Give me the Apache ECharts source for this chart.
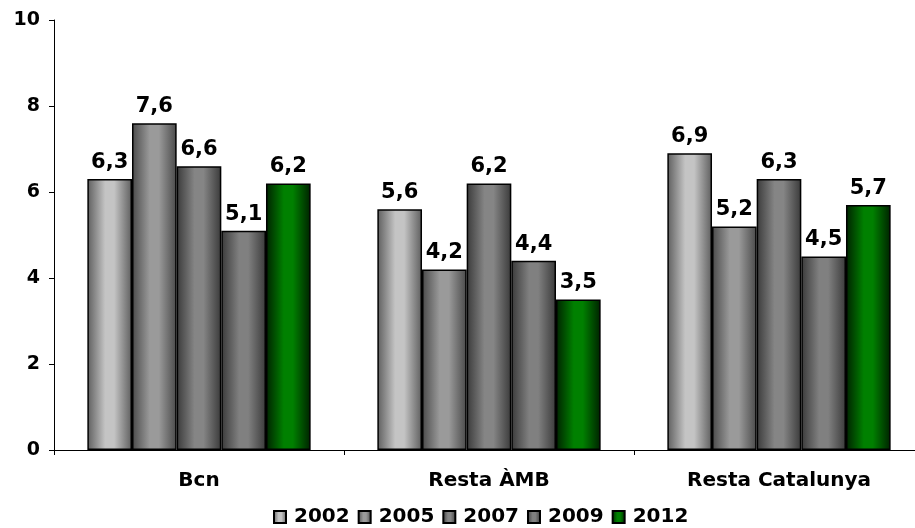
<!DOCTYPE html>
<html><head><meta charset="utf-8">
<script src="https://cdn.jsdelivr.net/npm/echarts@6/dist/echarts.min.js"></script>
<style>html,body{margin:0;padding:0;background:#fff;overflow:hidden}#c{width:930px;height:528px}</style>
</head><body><div id="c"></div>
<script>
const categories = ['Bcn', 'Resta ÀMB', 'Resta Catalunya'];
const years = ['2002', '2005', '2007', '2009', '2012'];
const v2002 = [6.3, 5.6, 6.9];
const v2005 = [7.6, 4.2, 5.2];
const v2007 = [6.6, 6.2, 6.3];
const v2009 = [5.1, 4.4, 4.5];
const v2012 = [6.2, 3.5, 5.7];
const yTicks = [0, 2, 4, 6, 8, 10];

const seriesValues = [v2002, v2005, v2007, v2009, v2012];
const palette = [
  {edge:'#5e5e5e', mid:'#c4c4c4'},
  {edge:'#4a4a4a', mid:'#9a9a9a'},
  {edge:'#3a3a3a', mid:'#858585'},
  {edge:'#3a3a3a', mid:'#808080'},
  {edge:'#002200', mid:'#008000'}
];
function grad(p){
  return new echarts.graphic.LinearGradient(0,0,1,0,[
    {offset:0, color:p.edge},
    {offset:0.4, color:p.mid},
    {offset:0.6, color:p.mid},
    {offset:1, color:p.edge}
  ]);
}
const FONT = '"DejaVu Sans", Verdana, sans-serif';
const chart = echarts.init(document.getElementById('c'));
chart.setOption({
  animation:false,
  backgroundColor:'#fff',
  grid:{left:54, top:20, width:870, height:430, containLabel:false},
  legend:{
    top:507, left:273, itemWidth:12, itemHeight:12, itemGap:8, padding:0,
    textStyle:{fontFamily:FONT, fontWeight:'bold', fontSize:20, color:'#000', padding:[0,0,0,3]},
    data: years.map(y=>({name:y, icon:'rect'}))
  },
  xAxis:{
    type:'category', data:categories,
    axisLine:{lineStyle:{color:'#000', width:1}},
    axisTick:{show:true, length:5, lineStyle:{color:'#000'}},
    axisLabel:{fontFamily:FONT, fontWeight:'bold', fontSize:20, color:'#000', margin:21}
  },
  yAxis:{
    type:'value', min:0, max:10, interval:2,
    splitLine:{show:false},
    axisLine:{show:true, lineStyle:{color:'#000', width:1}},
    axisTick:{show:true, length:5, lineStyle:{color:'#000'}},
    axisLabel:{fontFamily:FONT, fontWeight:'bold', fontSize:19, color:'#000', margin:14,
      formatter:v=> yTicks.includes(v) ? String(v) : ''}
  },
  series: years.map((y,i)=>({
    name:y, type:'bar', data:seriesValues[i],
    barGap:'0%', barCategoryGap:'23%',
    itemStyle:{color:grad(palette[i]), borderColor:'#000', borderWidth:1.5},
    label:{show:true, position:'top', distance:6, fontFamily:FONT, fontWeight:'bold', fontSize:21, color:'#000',
      formatter:p=>p.value.toFixed(1).replace('.', ',')}
  }))
});
</script></body></html>
